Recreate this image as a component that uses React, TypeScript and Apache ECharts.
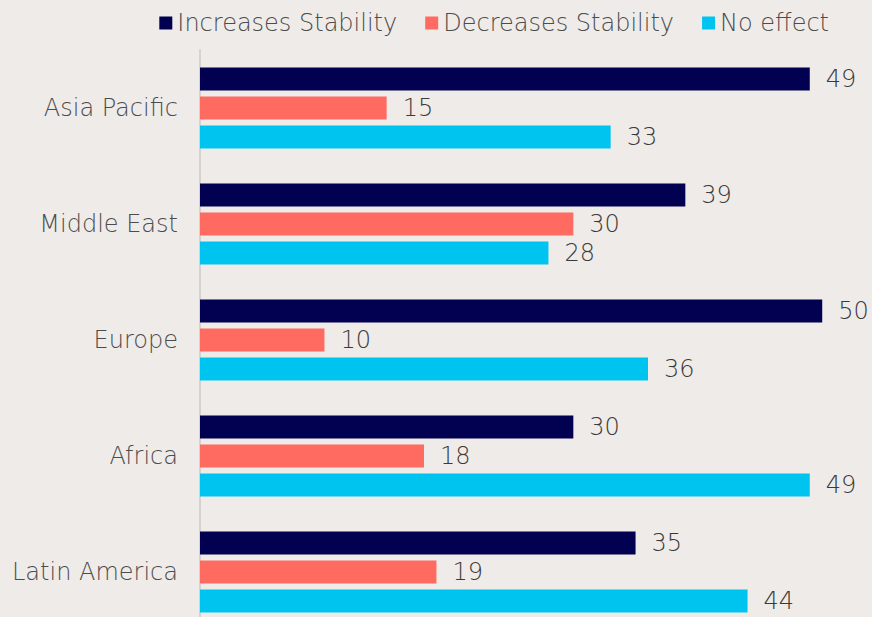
import React, { useEffect, useRef } from "react";
import * as echarts from "echarts";

const regions = ["Asia Pacific", "Middle East", "Europe", "Africa", "Latin America"];
const increasesStability = [49, 39, 50, 30, 35];
const decreasesStability = [15, 30, 10, 18, 19];
const noEffect = [33, 28, 36, 49, 44];

const seriesNames = ["Increases Stability", "Decreases Stability", "No effect"];
const seriesColors = ["#020051", "#ff6b60", "#00c4f0"];

const FONT = "'DejaVu Sans', sans-serif";
const TEXT_WEIGHT = 200;

export default function App() {
  const ref = useRef<HTMLDivElement>(null);

  useEffect(() => {
    if (!ref.current) return;
    const chart = echarts.init(ref.current, null, { renderer: "svg" });
    const values = [increasesStability, decreasesStability, noEffect];
    chart.setOption({
      animation: false,
      backgroundColor: "#efebe8",
      textStyle: { fontFamily: FONT },
      legend: {
        right: 38,
        top: 6,
        itemWidth: 13,
        itemHeight: 13,
        itemGap: 28,
        icon: "rect",
        textStyle: { fontSize: 24, color: "#4c4c4c", fontFamily: FONT, fontWeight: TEXT_WEIGHT },
        data: seriesNames,
      },
      grid: { left: 200, right: 0, top: 50, bottom: 0, containLabel: false },
      xAxis: {
        type: "value",
        min: 0,
        max: 54,
        show: false,
      },
      yAxis: {
        type: "category",
        inverse: true,
        data: regions,
        axisLine: { show: true, lineStyle: { color: "#d6d2cf", width: 2 } },
        axisTick: { show: false },
        axisLabel: {
          fontSize: 24,
          color: "#4c4c4c",
          margin: 22,
          fontFamily: FONT,
          fontWeight: TEXT_WEIGHT,
        },
      },
      series: seriesNames.map((name, i) => ({
        name,
        type: "bar",
        data: values[i],
        barWidth: 23,
        barGap: "26%",
        itemStyle: { color: seriesColors[i] },
        label: {
          show: true,
          position: "right",
          distance: 16,
          fontSize: 24,
          color: "#3a3a3a",
          fontFamily: FONT,
          fontWeight: TEXT_WEIGHT,
        },
      })),
    });
    return () => chart.dispose();
  }, []);

  return (
    <div
      ref={ref}
      style={{ position: "fixed", left: 0, top: 0, width: 872, height: 630 }}
    />
  );
}
